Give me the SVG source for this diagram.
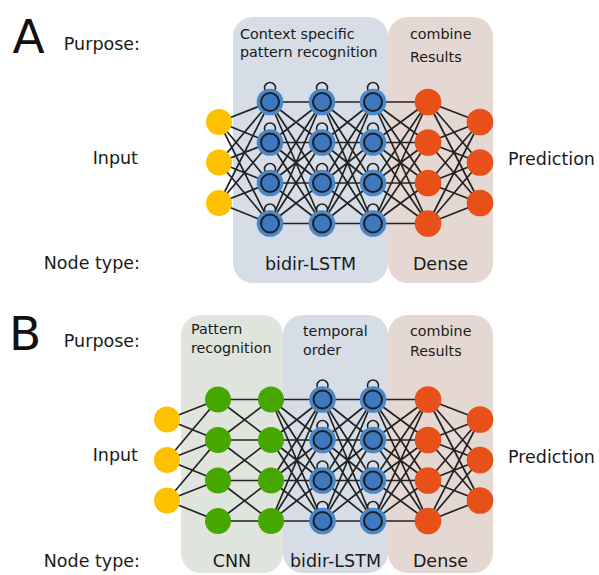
<svg xmlns="http://www.w3.org/2000/svg" xmlns:xlink="http://www.w3.org/1999/xlink" width="599" height="575" viewBox="0 0 599 575">
<style>
.t{font-family:"DejaVu Sans","Liberation Sans",sans-serif;font-size:17.5px;fill:#1a1a1a}
.s{font-size:14.3px}
.big{font-size:47px;fill:#111}
.e{text-anchor:end}
.m{text-anchor:middle}
.y{fill:#fdc100}
.g{fill:#45a700}
.o{fill:#e85019}
.bo{fill:#4a88cc}
.bi{fill:#3d78c0;stroke:#1e1e1e;stroke-width:2}
.lp{fill:none;stroke:#222;stroke-width:1.6}
.cn{fill:none;stroke:#222;stroke-width:1.7;stroke-linecap:round}
.bb{fill:#d6dde7}
.bd{fill:#e5d8d2}
.bg{fill:#dfe5dd}
</style>
<defs>
<g id="lstm"><circle class="lp" cx="0" cy="-14" r="5.5"/><circle class="bo" r="13.3"/><circle class="bi" r="9"/></g>
</defs>

<g id="boxes">
<rect class="bb" x="233" y="17" width="155" height="266" rx="20"/>
<rect class="bd" x="388" y="17" width="105" height="266" rx="20"/>
<rect class="bg" x="181" y="315" width="102" height="258" rx="20"/>
<rect class="bb" x="283" y="315" width="105" height="258" rx="20"/>
<rect class="bd" x="388" y="315" width="105" height="258" rx="20"/>
</g>

<g id="labels" class="t">
<text class="t big" x="12.5" y="53">A</text>
<text class="t e" x="140" y="50">Purpose:</text>
<text class="t e" x="138" y="163.5">Input</text>
<text class="t" x="508" y="165">Prediction</text>
<text class="t e" x="140" y="269">Node type:</text>
<text class="t m" x="310.5" y="270">bidir-LSTM</text>
<text class="t m" x="440.5" y="270">Dense</text>
<text class="t s" x="240" y="39">Context specific</text>
<text class="t s" x="240" y="57">pattern recognition</text>
<text class="t s" x="410" y="39">combine</text>
<text class="t s" x="410" y="62">Results</text>

<text class="t big" x="9" y="350">B</text>
<text class="t e" x="140" y="347">Purpose:</text>
<text class="t s" x="191" y="334">Pattern</text>
<text class="t s" x="191" y="353">recognition</text>
<text class="t s" x="303" y="336">temporal</text>
<text class="t s" x="303" y="355">order</text>
<text class="t s" x="410" y="336">combine</text>
<text class="t s" x="410" y="356">Results</text>
<text class="t e" x="138" y="461">Input</text>
<text class="t" x="508" y="463">Prediction</text>
<text class="t e" x="140" y="567">Node type:</text>
<text class="t m" x="232" y="567">CNN</text>
<text class="t m" x="335.5" y="567">bidir-LSTM</text>
<text class="t m" x="440.5" y="567">Dense</text>
</g>

<g id="connectors">
<path class="cn" d="M219 122L270 102M219 122L270 142.5M219 122L270 183M219 122L270 223.5M219 162.5L270 102M219 162.5L270 142.5M219 162.5L270 183M219 162.5L270 223.5M219 203L270 102M219 203L270 142.5M219 203L270 183M219 203L270 223.5"/>
<path class="cn" d="M270 102L322 102M270 102L322 142.5M270 102L322 183M270 102L322 223.5M270 142.5L322 102M270 142.5L322 142.5M270 142.5L322 183M270 142.5L322 223.5M270 183L322 102M270 183L322 142.5M270 183L322 183M270 183L322 223.5M270 223.5L322 102M270 223.5L322 142.5M270 223.5L322 183M270 223.5L322 223.5"/>
<path class="cn" d="M322 102L373 102M322 102L373 142.5M322 102L373 183M322 102L373 223.5M322 142.5L373 102M322 142.5L373 142.5M322 142.5L373 183M322 142.5L373 223.5M322 183L373 102M322 183L373 142.5M322 183L373 183M322 183L373 223.5M322 223.5L373 102M322 223.5L373 142.5M322 223.5L373 183M322 223.5L373 223.5"/>
<path class="cn" d="M373 102L428 102M373 102L428 142.5M373 102L428 183M373 102L428 223.5M373 142.5L428 102M373 142.5L428 142.5M373 142.5L428 183M373 142.5L428 223.5M373 183L428 102M373 183L428 142.5M373 183L428 183M373 183L428 223.5M373 223.5L428 102M373 223.5L428 142.5M373 223.5L428 183M373 223.5L428 223.5"/>
<path class="cn" d="M428 102L480 122M428 102L480 162.5M428 102L480 203M428 142.5L480 122M428 142.5L480 162.5M428 142.5L480 203M428 183L480 122M428 183L480 162.5M428 183L480 203M428 223.5L480 122M428 223.5L480 162.5M428 223.5L480 203"/>

<path class="cn" d="M167 419.5L218 399.5M167 419.5L218 440M167 460L218 399.5M167 460L218 440M167 460L218 480.5M167 500.5L218 440M167 500.5L218 480.5M167 500.5L218 521"/>
<path class="cn" d="M218 399.5L271 399.5M218 399.5L271 440M218 440L271 399.5M218 440L271 440M218 440L271 480.5M218 480.5L271 440M218 480.5L271 480.5M218 480.5L271 521M218 521L271 480.5M218 521L271 521"/>
<path class="cn" d="M271 399.5L322.5 399.5M271 399.5L322.5 440M271 399.5L322.5 480.5M271 399.5L322.5 521M271 440L322.5 399.5M271 440L322.5 440M271 440L322.5 480.5M271 440L322.5 521M271 480.5L322.5 399.5M271 480.5L322.5 440M271 480.5L322.5 480.5M271 480.5L322.5 521M271 521L322.5 399.5M271 521L322.5 440M271 521L322.5 480.5M271 521L322.5 521"/>
<path class="cn" d="M322.5 399.5L373 399.5M322.5 399.5L373 440M322.5 399.5L373 480.5M322.5 399.5L373 521M322.5 440L373 399.5M322.5 440L373 440M322.5 440L373 480.5M322.5 440L373 521M322.5 480.5L373 399.5M322.5 480.5L373 440M322.5 480.5L373 480.5M322.5 480.5L373 521M322.5 521L373 399.5M322.5 521L373 440M322.5 521L373 480.5M322.5 521L373 521"/>
<path class="cn" d="M373 399.5L428 399.5M373 399.5L428 440M373 399.5L428 480.5M373 399.5L428 521M373 440L428 399.5M373 440L428 440M373 440L428 480.5M373 440L428 521M373 480.5L428 399.5M373 480.5L428 440M373 480.5L428 480.5M373 480.5L428 521M373 521L428 399.5M373 521L428 440M373 521L428 480.5M373 521L428 521"/>
<path class="cn" d="M428 399.5L480 419.5M428 399.5L480 460M428 399.5L480 500.5M428 440L480 419.5M428 440L480 460M428 440L480 500.5M428 480.5L480 419.5M428 480.5L480 460M428 480.5L480 500.5M428 521L480 419.5M428 521L480 460M428 521L480 500.5"/>
</g>

<g id="a-in-1"><circle class="y" cx="219" cy="122" r="13"/></g>
<g id="a-in-2"><circle class="y" cx="219" cy="162.5" r="13"/></g>
<g id="a-in-3"><circle class="y" cx="219" cy="203" r="13"/></g>
<g id="a-l1-1"><use href="#lstm" x="270" y="102"/></g>
<g id="a-l1-2"><use href="#lstm" x="270" y="142.5"/></g>
<g id="a-l1-3"><use href="#lstm" x="270" y="183"/></g>
<g id="a-l1-4"><use href="#lstm" x="270" y="223.5"/></g>
<g id="a-l2-1"><use href="#lstm" x="322" y="102"/></g>
<g id="a-l2-2"><use href="#lstm" x="322" y="142.5"/></g>
<g id="a-l2-3"><use href="#lstm" x="322" y="183"/></g>
<g id="a-l2-4"><use href="#lstm" x="322" y="223.5"/></g>
<g id="a-l3-1"><use href="#lstm" x="373" y="102"/></g>
<g id="a-l3-2"><use href="#lstm" x="373" y="142.5"/></g>
<g id="a-l3-3"><use href="#lstm" x="373" y="183"/></g>
<g id="a-l3-4"><use href="#lstm" x="373" y="223.5"/></g>
<g id="a-d1-1"><circle class="o" cx="428" cy="102" r="13.3"/></g>
<g id="a-d1-2"><circle class="o" cx="428" cy="142.5" r="13.3"/></g>
<g id="a-d1-3"><circle class="o" cx="428" cy="183" r="13.3"/></g>
<g id="a-d1-4"><circle class="o" cx="428" cy="223.5" r="13.3"/></g>
<g id="a-out-1"><circle class="o" cx="480" cy="122" r="13.3"/></g>
<g id="a-out-2"><circle class="o" cx="480" cy="162.5" r="13.3"/></g>
<g id="a-out-3"><circle class="o" cx="480" cy="203" r="13.3"/></g>

<g id="b-in-1"><circle class="y" cx="167" cy="419.5" r="13"/></g>
<g id="b-in-2"><circle class="y" cx="167" cy="460" r="13"/></g>
<g id="b-in-3"><circle class="y" cx="167" cy="500.5" r="13"/></g>
<g id="b-c1-1"><circle class="g" cx="218" cy="399.5" r="13"/></g>
<g id="b-c1-2"><circle class="g" cx="218" cy="440" r="13"/></g>
<g id="b-c1-3"><circle class="g" cx="218" cy="480.5" r="13"/></g>
<g id="b-c1-4"><circle class="g" cx="218" cy="521" r="13"/></g>
<g id="b-c2-1"><circle class="g" cx="271" cy="399.5" r="13"/></g>
<g id="b-c2-2"><circle class="g" cx="271" cy="440" r="13"/></g>
<g id="b-c2-3"><circle class="g" cx="271" cy="480.5" r="13"/></g>
<g id="b-c2-4"><circle class="g" cx="271" cy="521" r="13"/></g>
<g id="b-l1-1"><use href="#lstm" x="322.5" y="399.5"/></g>
<g id="b-l1-2"><use href="#lstm" x="322.5" y="440"/></g>
<g id="b-l1-3"><use href="#lstm" x="322.5" y="480.5"/></g>
<g id="b-l1-4"><use href="#lstm" x="322.5" y="521"/></g>
<g id="b-l2-1"><use href="#lstm" x="373" y="399.5"/></g>
<g id="b-l2-2"><use href="#lstm" x="373" y="440"/></g>
<g id="b-l2-3"><use href="#lstm" x="373" y="480.5"/></g>
<g id="b-l2-4"><use href="#lstm" x="373" y="521"/></g>
<g id="b-d1-1"><circle class="o" cx="428" cy="399.5" r="13.3"/></g>
<g id="b-d1-2"><circle class="o" cx="428" cy="440" r="13.3"/></g>
<g id="b-d1-3"><circle class="o" cx="428" cy="480.5" r="13.3"/></g>
<g id="b-d1-4"><circle class="o" cx="428" cy="521" r="13.3"/></g>
<g id="b-out-1"><circle class="o" cx="480" cy="419.5" r="13.3"/></g>
<g id="b-out-2"><circle class="o" cx="480" cy="460" r="13.3"/></g>
<g id="b-out-3"><circle class="o" cx="480" cy="500.5" r="13.3"/></g>
</svg>
